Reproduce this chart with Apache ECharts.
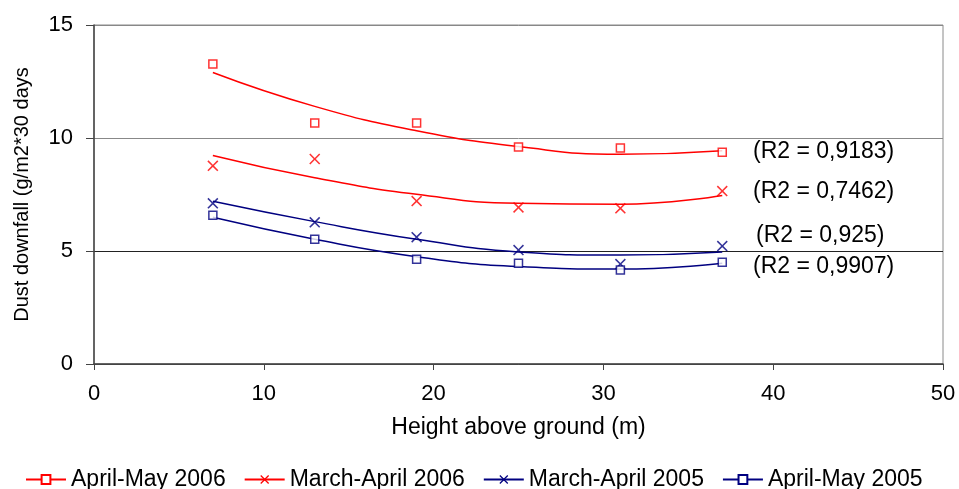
<!DOCTYPE html>
<html>
<head>
<meta charset="utf-8">
<script src="https://cdn.jsdelivr.net/npm/echarts@6/dist/echarts.min.js"></script>
<style>
  html, body { margin: 0; padding: 0; background: #fff; }
  #chart { width: 959px; height: 489px; }
</style>
</head>
<body>
<div id="chart"></div>
<script>
// heights (m)
const heights = [7, 13, 19, 25, 31, 37]

// measured points
const aprMay2006 = [13.27, 10.66, 10.66, 9.6, 9.56, 9.37]
const marApr2006 = [8.77, 9.07, 7.21, 6.93, 6.89, 7.65]
const marApr2005 = [7.11, 6.27, 5.61, 5.04, 4.42, 5.22]
const aprMay2005 = [6.58, 5.52, 4.63, 4.46, 4.16, 4.5]

// trend lines at the same heights
const trendAprMay2006 = [12.9, 11.4, 10.32, 9.62, 9.28, 9.44]
const trendMarApr2006 = [9.23, 8.24, 7.51, 7.11, 7.07, 7.46]
const trendMarApr2005 = [7.2, 6.3, 5.52, 4.96, 4.82, 4.96]
const trendAprMay2005 = [6.49, 5.52, 4.75, 4.31, 4.2, 4.46]

const seriesNames = ['April-May 2006', 'March-April 2006', 'March-April 2005', 'April-May 2005']
const r2Labels = ['(R2 = 0,9183)', '(R2 = 0,7462)', '(R2 = 0,925)', '(R2 = 0,9907)']

const RED = '#ff0000'
const NAVY = '#000080'
const CROSS = 'path://M0,1L1,0L5,4L9,0L10,1L6,5L10,9L9,10L5,6L1,10L0,9L4,5Z'
const FONT = 'Liberation Sans, Arial, sans-serif'

const pts = (ys) => heights.map((h, i) => [h, ys[i]])

function trendSeries(name, ys, color, symbol) {
  const sq = symbol === 'rect'
  return {
    name: name,
    type: 'line',
    smooth: true,
    data: pts(ys),
    showSymbol: false,
    symbol: symbol,
    symbolSize: sq ? 8 : 11,
    lineStyle: { color: color, width: 1.5 },
    itemStyle: sq ? { color: '#fff', borderColor: color, borderWidth: 1.5 } : { color: color },
    emphasis: { disabled: true },
    z: 2
  }
}

function pointSeries(name, ys, color, symbol) {
  const sq = symbol === 'rect'
  return {
    name: name,
    type: 'scatter',
    data: pts(ys),
    symbol: symbol,
    symbolSize: sq ? 8 : 11,
    itemStyle: sq ? { color: '#fff', borderColor: color, borderWidth: 1.5 } : { color: color },
    z: 3
  }
}

const chart = echarts.init(document.getElementById('chart'))

const labelYs = [153, 193, 237, 268]
const labelXs = [753, 753, 756, 753]

const option = {
  animation: false,
  textStyle: { fontFamily: FONT },
  grid: {
    left: 94, right: 16, top: 25, bottom: 125,
    show: true, borderColor: '#8a8a8a', borderWidth: 1
  },
  legend: {
    data: seriesNames,
    left: 20,
    top: 463,
    itemWidth: 40,
    itemHeight: 11,
    itemGap: 18,
    textStyle: { fontSize: 23, color: '#000' }
  },
  xAxis: {
    type: 'value',
    min: 0, max: 50, interval: 10,
    name: 'Height above ground (m)',
    nameLocation: 'middle',
    nameGap: 52,
    nameTextStyle: { fontSize: 23, color: '#000' },
    axisLine: { show: true, lineStyle: { color: '#444', width: 1.5 } },
    axisTick: { show: true, length: 6, lineStyle: { color: '#444' } },
    axisLabel: { fontSize: 22, color: '#000', margin: 19 },
    splitLine: { show: false }
  },
  yAxis: {
    type: 'value',
    min: 0, max: 15, interval: 5,
    name: 'Dust downfall (g/m2*30 days',
    nameLocation: 'middle',
    nameGap: 62,
    nameTextStyle: { fontSize: 20, color: '#000' },
    axisLine: { show: true, lineStyle: { color: '#444', width: 1.5 } },
    axisTick: { show: true, length: 8, lineStyle: { color: '#444' } },
    axisLabel: { fontSize: 22, color: '#000', margin: 21 },
    splitLine: { show: true, lineStyle: { color: ['#444', '#222', '#888', '#888'], width: 1 } }
  },
  graphic: r2Labels.map((t, i) => ({
    type: 'text',
    left: labelXs[i],
    top: labelYs[i] - 13,
    style: { text: t, fontSize: 23, fill: '#000', fontFamily: FONT },
    z: 10
  })),
  series: [
    trendSeries(seriesNames[0], trendAprMay2006, RED, 'rect'),
    trendSeries(seriesNames[1], trendMarApr2006, RED, CROSS),
    trendSeries(seriesNames[2], trendMarApr2005, NAVY, CROSS),
    trendSeries(seriesNames[3], trendAprMay2005, NAVY, 'rect'),
    pointSeries(seriesNames[0], aprMay2006, RED, 'rect'),
    pointSeries(seriesNames[1], marApr2006, RED, CROSS),
    pointSeries(seriesNames[2], marApr2005, NAVY, CROSS),
    pointSeries(seriesNames[3], aprMay2005, NAVY, 'rect')
  ]
}

chart.setOption(option)
</script>
</body>
</html>
